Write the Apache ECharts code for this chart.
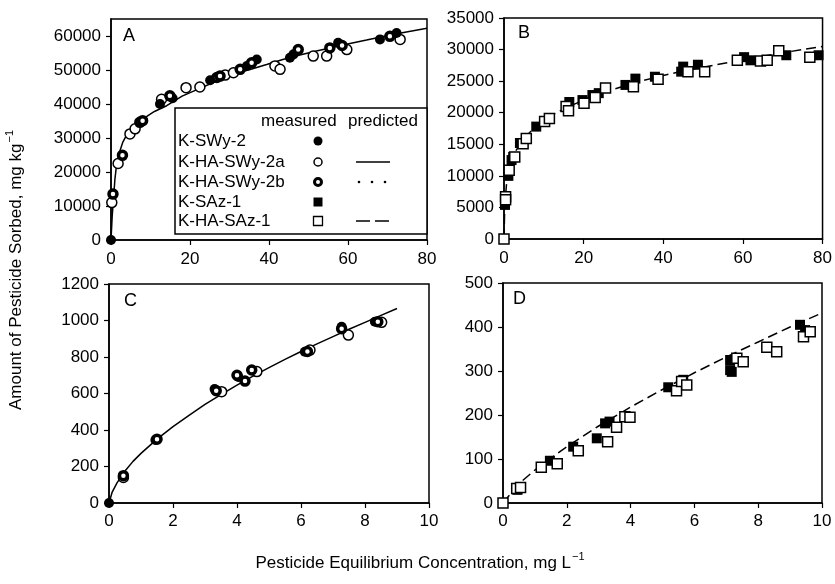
<!DOCTYPE html>
<html>
<head>
<meta charset="utf-8">
<script src="https://cdn.jsdelivr.net/npm/echarts@6/dist/echarts.min.js"></script>
<style>
html, body { margin: 0; padding: 0; background: #fff; }
#chart { width: 835px; height: 584px; }
</style>
</head>
<body>
<div id="chart"></div>
<script>
// ---- data ----
// panel A (mg kg-1 vs mg L-1)
const aSWy2 = [[0, 0], [12.4, 40000], [15.6, 41700], [25.1, 47000], [34.4, 51200], [36.9, 53100], [45.3, 53600], [46.2, 54600], [57.5, 58000], [68.1, 59000], [72.3, 60900]];
const aHASWy2a = [[0.2, 11000], [1.8, 22500], [4.8, 31200], [6.1, 32700], [12.8, 41400], [19, 44800], [22.5, 45000], [28.9, 48500], [31, 49200], [41.5, 51200], [42.8, 50200], [51.2, 54100], [54.6, 54100], [59.7, 56000], [73.2, 59000]];
const aHASWy2b = [[0.5, 13500], [2.9, 24900], [7.3, 34600], [8, 35100], [14.9, 42400], [26.8, 47800], [27.6, 48200], [32.7, 50200], [35.6, 52100], [47.4, 56000], [55.4, 56500], [58.5, 57200], [70.6, 59900]];
const aPredicted = [[0, 0], [0.3, 7000], [0.6, 11700], [1, 18000], [1.4, 22000], [2, 25300], [3, 28800], [4, 31000], [6, 33800], [8.2, 35700], [11, 37800], [14.1, 39500], [18, 42300], [22.5, 44600], [26.5, 46600], [30.9, 48500], [35, 50100], [39.4, 51600], [43.5, 53100], [47.8, 54400], [52, 55600], [56.3, 56700], [60.5, 57800], [64.7, 58800], [72, 60600], [80, 62300]];

// panel B
const bSAz1 = [[0.25, 5400], [1.1, 10000], [1.9, 12500], [2.3, 13000], [4.0, 15200], [8.1, 17800], [16.4, 21700], [19.7, 22000], [22.2, 22800], [23.8, 23100], [30.5, 24400], [33, 25400], [37.9, 25700], [44.5, 26500], [45, 27300], [48.7, 27600], [60.3, 28800], [61.9, 28300], [70.9, 29100], [79, 29100]];
const bHASAz1 = [[0, 0], [0.4, 6700], [0.4, 6200], [1.3, 10900], [2.7, 13000], [4.8, 15100], [5.6, 15900], [10.2, 18600], [11.4, 19100], [15.6, 21000], [16.2, 20300], [20.1, 21500], [22.9, 22400], [25.5, 23900], [32.5, 24100], [38.7, 25300], [46.2, 26500], [50.4, 26500], [58.6, 28300], [64.4, 28200], [66.1, 28300], [69, 29800], [76.8, 28800]];
const bPredicted = [[0, 0], [0.15, 4000], [0.3, 6000], [0.6, 8500], [1, 10500], [1.5, 11800], [2, 12800], [3, 14000], [4, 15000], [6, 16600], [8, 17800], [10, 18800], [12, 19600], [16, 20900], [20, 22000], [25, 23200], [30, 24200], [35, 25100], [40, 25900], [45, 26600], [50, 27200], [55, 27800], [60, 28400], [65, 28950], [70, 29500], [75, 30000], [80, 30500]];

// panel C
const cSWy2 = [[0, 0], [1.45, 345], [3.3, 625], [4.04, 690], [6.12, 829], [7.27, 966], [8.31, 993]];
const cHASWy2a = [[0.45, 140], [3.52, 610], [4.62, 720], [6.28, 838], [7.48, 920], [8.52, 990]];
const cHASWy2b = [[0.45, 150], [1.5, 350], [3.35, 615], [4.0, 700], [4.25, 668], [4.46, 729], [6.2, 830], [7.27, 955], [8.4, 993]];
const cPredicted = [[0, 0], [0.1, 60], [0.25, 110], [0.5, 175], [0.75, 228], [1, 272], [1.5, 350], [2, 418], [2.5, 480], [3, 540], [3.5, 594], [4, 646], [4.5, 695], [5, 742], [5.5, 787], [6, 830], [6.5, 872], [7, 912], [7.5, 952], [8, 990], [8.5, 1028], [9, 1066]];

// panel D
const dSAz1 = [[0.45, 30], [1.47, 96], [2.2, 128], [2.94, 147], [3.2, 181], [3.34, 185], [5.18, 263], [5.65, 280], [7.12, 302], [7.17, 298], [7.12, 325], [9.31, 405], [9.47, 393]];
const dHASAz1 = [[0, 0], [0.43, 33], [0.55, 35], [1.2, 81], [1.7, 89], [2.36, 119], [3.28, 139], [3.56, 172], [3.82, 196], [3.98, 195], [5.44, 255], [5.6, 276], [5.76, 268], [7.33, 329], [7.53, 321], [8.27, 354], [8.58, 344], [9.42, 378], [9.63, 389]];
const dPredicted = [[0, 0], [0.5, 44], [1, 75], [1.5, 102], [2, 128], [3, 175], [4, 218], [5, 258], [6, 296], [7, 332], [8, 366], [9, 400], [10, 432]];

// tick labels
const yTicksA = [0, 10000, 20000, 30000, 40000, 50000, 60000];
const legendNames = ["K-SWy-2", "K-HA-SWy-2a", "K-HA-SWy-2b", "K-SAz-1", "K-HA-SAz-1"];
const panelLetters = ["A", "B", "C", "D"];

const FONT = "'Liberation Sans', Arial, sans-serif";

// grid boxes, px
const grids = [
  { left: 111, top: 19, width: 316, height: 221 },
  { left: 504, top: 18, width: 322, height: 221 },
  { left: 109, top: 284, width: 320, height: 219 },
  { left: 503, top: 283, width: 319, height: 220 },
];

function axisCommon(gi, min, max, interval, margin) {
  return {
    type: "value",
    gridIndex: gi,
    min: min,
    max: max,
    interval: interval,
    axisLine: { onZero: false, lineStyle: { color: "#000", width: 1.5 } },
    axisTick: { length: 5, lineStyle: { color: "#000", width: 1.2 } },
    axisLabel: { color: "#000", fontSize: 17, fontFamily: FONT, margin: margin, formatter: (v) => String(v) },
    splitLine: { show: false },
  };
}

const yA = axisCommon(0, 0, 65000, 10000, 10);
yA.axisTick.customValues = yTicksA;
yA.axisLabel.customValues = yTicksA;

// marker styles
const filledCircle = { symbol: "circle", symbolSize: 10, itemStyle: { color: "#000", opacity: 1 } };
const openCircle = { symbol: "circle", symbolSize: 10, itemStyle: { color: "#fff", borderColor: "#000", borderWidth: 1.5, opacity: 1 } };
const ringCircle = { symbol: "circle", symbolSize: 8, itemStyle: { color: "#fff", borderColor: "#000", borderWidth: 3.5, opacity: 1 } };
const filledSquare = { symbol: "rect", symbolSize: 10, itemStyle: { color: "#000", opacity: 1 } };
const openSquare = { symbol: "rect", symbolSize: 10, itemStyle: { color: "#fff", borderColor: "#000", borderWidth: 1.5, opacity: 1 } };

function scatter(gi, data, style) {
  return Object.assign({ type: "scatter", xAxisIndex: gi, yAxisIndex: gi, data: data, z: 3, silent: true }, style);
}
function curve(gi, data, dash) {
  return {
    type: "line", xAxisIndex: gi, yAxisIndex: gi, data: data,
    showSymbol: false, smooth: false, z: 2, silent: true,
    lineStyle: { color: "#000", width: 1.5, type: dash ? [10, 5] : "solid" },
  };
}

// legend drawn as a small table inside panel A
const legendRows = [141, 162, 182, 202, 221];
const legendEls = [
  { type: "rect", shape: { x: 175, y: 108, width: 252, height: 126 }, style: { fill: "#fff", stroke: "#000", lineWidth: 1.5 } },
  { type: "text", style: { text: "measured", x: 261, y: 121, font: "17px " + FONT, fill: "#000", textVerticalAlign: "middle" } },
  { type: "text", style: { text: "predicted", x: 348, y: 121, font: "17px " + FONT, fill: "#000", textVerticalAlign: "middle" } },
];
legendNames.forEach((n, i) => {
  legendEls.push({ type: "text", style: { text: n, x: 178, y: legendRows[i], font: "17px " + FONT, fill: "#000", textVerticalAlign: "middle" } });
});
legendEls.push(
  { type: "circle", shape: { cx: 318, cy: legendRows[0], r: 4.5 }, style: { fill: "#000" } },
  { type: "circle", shape: { cx: 318, cy: legendRows[1], r: 4 }, style: { fill: "#fff", stroke: "#000", lineWidth: 1.5 } },
  { type: "circle", shape: { cx: 318, cy: legendRows[2], r: 3.5 }, style: { fill: "#fff", stroke: "#000", lineWidth: 3 } },
  { type: "rect", shape: { x: 313.5, y: legendRows[3] - 4.5, width: 9, height: 9 }, style: { fill: "#000" } },
  { type: "rect", shape: { x: 313.5, y: legendRows[4] - 4.5, width: 9, height: 9 }, style: { fill: "#fff", stroke: "#000", lineWidth: 1.3 } },
  { type: "line", shape: { x1: 356, y1: legendRows[1], x2: 390, y2: legendRows[1] }, style: { stroke: "#000", lineWidth: 1.5 } },
  { type: "circle", shape: { cx: 359, cy: legendRows[2], r: 1.3 }, style: { fill: "#000" } },
  { type: "circle", shape: { cx: 372, cy: legendRows[2], r: 1.3 }, style: { fill: "#000" } },
  { type: "circle", shape: { cx: 385, cy: legendRows[2], r: 1.3 }, style: { fill: "#000" } },
  { type: "line", shape: { x1: 356, y1: legendRows[4], x2: 389, y2: legendRows[4] }, style: { stroke: "#000", lineWidth: 1.5, lineDash: [14, 5] } }
);

const letterPos = [[123, 36], [518, 33], [124, 301], [513, 299]];
const letterEls = panelLetters.map((t, i) => ({
  type: "text",
  style: { text: t, x: letterPos[i][0], y: letterPos[i][1], font: "18px " + FONT, fill: "#000", textVerticalAlign: "middle" },
}));

const titleEls = [
  {
    type: "text", x: 420, y: 563,
    style: {
      text: "{a|Pesticide Equilibrium Concentration, mg L}{s|−1}",
      textAlign: "center", textVerticalAlign: "middle",
      rich: {
        a: { fontSize: 17, fontFamily: FONT, color: "#000" },
        s: { fontSize: 11, fontFamily: FONT, color: "#000", padding: [0, 0, 12, 1] },
      },
    },
  },
  {
    type: "text", x: 16, y: 270, rotation: Math.PI / 2,
    style: {
      text: "{a|Amount of Pesticide Sorbed, mg kg}{s|−1}",
      textAlign: "center", textVerticalAlign: "middle",
      rich: {
        a: { fontSize: 17, fontFamily: FONT, color: "#000" },
        s: { fontSize: 11, fontFamily: FONT, color: "#000", padding: [0, 0, 12, 1] },
      },
    },
  },
];

const chart = echarts.init(document.getElementById("chart"), null, { renderer: "canvas" });
chart.setOption({
  animation: false,
  backgroundColor: "#fff",
  grid: grids.map((g) => Object.assign({ show: true, borderColor: "#000", borderWidth: 1.5, backgroundColor: "transparent" }, g)),
  xAxis: [
    axisCommon(0, 0, 80, 20, 11),
    axisCommon(1, 0, 80, 20, 11),
    axisCommon(2, 0, 10, 2, 10),
    axisCommon(3, 0, 10, 2, 10),
  ],
  yAxis: [
    yA,
    axisCommon(1, 0, 35000, 5000, 10),
    axisCommon(2, 0, 1200, 200, 10),
    axisCommon(3, 0, 500, 100, 10),
  ],
  series: [
    curve(0, aPredicted, false),
    scatter(0, aHASWy2a, openCircle),
    scatter(0, aSWy2, filledCircle),
    scatter(0, aHASWy2b, ringCircle),
    curve(1, bPredicted, true),
    scatter(1, bSAz1, filledSquare),
    scatter(1, bHASAz1, openSquare),
    curve(2, cPredicted, false),
    scatter(2, cHASWy2a, openCircle),
    scatter(2, cSWy2, filledCircle),
    scatter(2, cHASWy2b, ringCircle),
    curve(3, dPredicted, true),
    scatter(3, dSAz1, filledSquare),
    scatter(3, dHASAz1, openSquare),
  ],
  graphic: { elements: [{ type: "group", z: 100, children: legendEls }].concat(letterEls, titleEls) },
});
</script>
</body>
</html>
